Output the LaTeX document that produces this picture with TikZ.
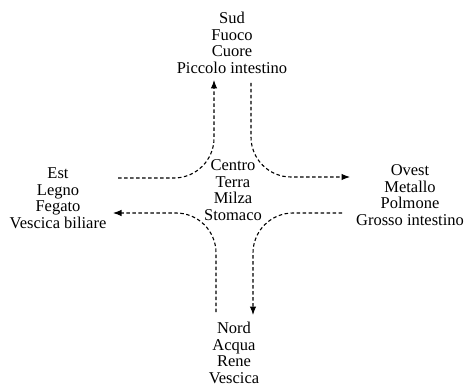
\documentclass[tikz,border=0pt]{standalone}
\usepackage{fontspec}
\setmainfont{Liberation Serif}
\usetikzlibrary{arrows.meta,calc}

\begin{document}
\begin{tikzpicture}[
  x=1pt, y=-1pt,
  element/.style={
    align=center,
    inner sep=0pt,
    font=\fontsize{16.5}{16.5}\selectfont
  },
  flow/.style={-{Latex[length=8.5pt,width=6.5pt]}, line width=1.1pt,
    dash pattern=on 3.5pt off 2.5pt, rounded corners=40pt}
]
\useasboundingbox (0,0) rectangle (468,387);

% Directions and centre
\node[element] (sud) at (232,43) {Sud\\Fuoco\\Cuore\\Piccolo intestino};
\node[element] (centro) at (233,190) {Centro\\Terra\\Milza\\Stomaco};
\node[element] (nord) at (234,353) {Nord\\Acqua\\Rene\\Vescica};
\node[element] (est) at (58,198) {Est\\Legno\\Fegato\\Vescica biliare};
\node[element] (ovest) at (410,195) {Ovest\\Metallo\\Polmone\\Grosso intestino};

% Cycle arrows round the centre
\draw[flow] ($(est)+(60,-20)$) -| ($(sud)+(-18,37)$);
\draw[flow] ($(sud)+(19,40)$) |- ($(ovest)+(-60,-18)$);
\draw[flow] ($(ovest)+(-68,18)$) -| ($(nord)+(19,-38)$);
\draw[flow] ($(nord)+(-18,-41)$) |- ($(est)+(55,15)$);

\end{tikzpicture}
\end{document}
